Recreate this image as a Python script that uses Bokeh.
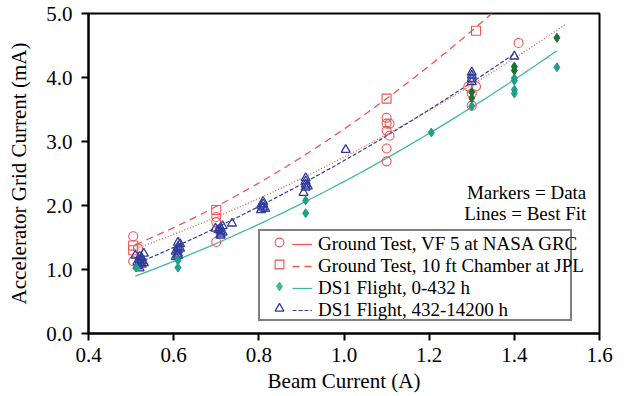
import numpy as np
from bokeh.plotting import figure
from bokeh.models import Legend, LegendItem, Label, NumeralTickFormatter, FixedTicker, Range1d
from bokeh.embed import file_html
from bokeh.resources import INLINE

FONT = "Liberation Serif"

# ---- data ----
x_ticks = [0.4, 0.6, 0.8, 1.0, 1.2, 1.4, 1.6]
y_ticks = [0.0, 1.0, 2.0, 3.0, 4.0, 5.0]

# Ground Test, VF 5 at NASA GRC (circles)
vf5_x = [0.505, 0.516, 0.505, 0.70, 0.70, 0.70, 1.10, 1.10, 1.107, 1.10, 1.107, 1.10, 1.10,
         1.292, 1.31, 1.30, 1.30, 1.41]
vf5_y = [1.52, 1.33, 1.13, 1.82, 1.74, 1.43, 3.37, 3.28, 3.28, 3.17, 3.09, 2.89, 2.69,
         3.86, 3.86, 3.75, 3.56, 4.54]

# Ground Test, 10 ft Chamber at JPL (squares)
jpl_x = [0.505, 0.505, 0.70, 1.10, 1.31]
jpl_y = [1.375, 1.30, 1.93, 3.67, 4.73]

# DS1 Flight, 0-432 h (diamonds)
ds1a_x = [0.512, 0.61, 0.61, 0.91, 0.91, 1.205, 1.30, 1.40, 1.40, 1.40, 1.40, 1.50]
ds1a_y = [1.03, 1.14, 1.03, 2.08, 1.88, 3.14, 3.55, 3.99, 3.95, 3.81, 3.75, 4.16]
ds1a_dark_x = [1.30, 1.30, 1.40, 1.40, 1.50]
ds1a_dark_y = [3.77, 3.68, 4.17, 4.11, 4.62]

# DS1 Flight, 432-14200 h (triangles)
ds1b_x = [0.51, 0.515, 0.52, 0.52, 0.52, 0.525, 0.525, 0.525, 0.53, 0.53, 0.52, 0.515,
          0.605, 0.61, 0.61, 0.61, 0.615, 0.61, 0.605, 0.615, 0.61,
          0.698, 0.737, 0.71, 0.71, 0.71, 0.715, 0.705, 0.71, 0.715,
          0.805, 0.81, 0.81, 0.81, 0.815, 0.805,
          0.905, 0.91, 0.91, 0.91, 0.91, 0.915,
          1.004, 1.30, 1.30, 1.30, 1.30, 1.40]
ds1b_y = [1.22, 1.05, 1.10, 1.15, 1.20, 1.08, 1.13, 1.18, 1.25, 1.10, 1.02, 1.12,
          1.20, 1.25, 1.30, 1.35, 1.40, 1.22, 1.28, 1.33, 1.42,
          1.64, 1.72, 1.55, 1.60, 1.65, 1.58, 1.62, 1.53, 1.68,
          1.93, 1.97, 2.02, 2.06, 1.95, 2.00,
          2.20, 2.28, 2.33, 2.38, 2.43, 2.30,
          2.87, 3.93, 3.98, 4.03, 4.08, 4.33]

# Best-fit quadratics  y = a + b*x + c*x^2  and their x extents
fit_vf5 = [0.373, 1.326, 1.057]
fit_vf5_span = [0.50, 1.52]
fit_jpl = [0.432, 0.950, 1.8125]
fit_jpl_span = [0.51, 1.36]
fit_ds1a = [-0.093, 1.387, 1.080]
fit_ds1a_span = [0.51, 1.50]
fit_ds1b = [-0.098, 1.816, 0.983]
fit_ds1b_span = [0.53, 1.40]

labels = ["Ground Test, VF 5 at NASA GRC",
          "Ground Test, 10 ft Chamber at JPL",
          "DS1 Flight, 0-432 h",
          "DS1 Flight, 432-14200 h"]

RED = "#ef5350"
BLUE = "#2f3b9c"
TEAL = "#1f9e8a"
MINT = "#3dbb8c"
DARK = "#1f6e35"
TEAL_LINE = "#45b8a0"


def fit_curve(coef, span):
    xs = np.linspace(span[0], span[1], 80)
    return xs, coef[0] + coef[1] * xs + coef[2] * xs ** 2


p = figure(width=627, height=396, output_backend="svg", toolbar_location=None,
           x_range=Range1d(0.4, 1.6), y_range=Range1d(0.0, 5.0),
           min_border_left=88, min_border_right=28, min_border_top=13, min_border_bottom=63)
p.xgrid.visible = False
p.ygrid.visible = False
p.outline_line_color = "black"
p.outline_line_width = 2
p.background_fill_color = "white"
p.border_fill_color = "white"

# fit lines
xs, ys = fit_curve(fit_vf5, fit_vf5_span)
r_l_vf5 = p.line(xs, ys, line_color=RED, line_width=1.3, line_dash="1 2")
xs, ys = fit_curve(fit_jpl, fit_jpl_span)
r_l_jpl = p.line(xs, ys, line_color=RED, line_width=1.3, line_dash="7 5")
xs, ys = fit_curve(fit_ds1a, fit_ds1a_span)
r_l_ds1a = p.line(xs, ys, line_color=TEAL_LINE, line_width=1.3)
xs, ys = fit_curve(fit_ds1b, fit_ds1b_span)
r_l_ds1b = p.line(xs, ys, line_color=BLUE, line_width=1.2, line_dash="4 2")

# markers
r_vf5 = p.scatter(vf5_x, vf5_y, marker="circle", size=9, fill_color=None, line_color=RED, line_width=1.1)
r_jpl = p.scatter(jpl_x, jpl_y, marker="square", size=9, fill_color=None, line_color=RED, line_width=1.1)
r_ds1b = p.scatter(ds1b_x, ds1b_y, marker="triangle", size=9, fill_color=None, line_color=BLUE, line_width=1.3)
r_ds1a = p.scatter(ds1a_x, ds1a_y, marker="diamond", size=9, fill_color=TEAL, line_color=TEAL)
p.scatter(ds1a_dark_x, ds1a_dark_y, marker="diamond", size=9, fill_color=DARK, line_color=DARK)

# legend proxies (a single undrawable NaN point each)
nan_pt = [float("nan")]
leg_diamond = p.scatter(nan_pt, nan_pt, marker="diamond", size=10, fill_color=MINT, line_color=MINT)
leg_red_solid = p.line(nan_pt, nan_pt, line_color=RED, line_width=1.3)

# axes
for ax in (p.xaxis[0], p.yaxis[0]):
    ax.axis_line_width = 2
    ax.axis_line_color = "black"
    ax.major_tick_line_width = 2
    ax.major_tick_in = 0
    ax.major_tick_out = 7
    ax.minor_tick_line_color = None
    ax.major_label_text_font = FONT
    ax.major_label_text_font_size = "21px"
    ax.major_label_text_color = "black"
    ax.axis_label_text_font = FONT
    ax.axis_label_text_font_size = "21px"
    ax.axis_label_text_font_style = "normal"
    ax.axis_label_text_color = "black"
    ax.formatter = NumeralTickFormatter(format="0.0")

p.xaxis.ticker = FixedTicker(ticks=x_ticks)
p.yaxis.ticker = FixedTicker(ticks=y_ticks)
p.xaxis.axis_label = "Beam Current (A)"
p.yaxis.axis_label = "Accelerator Grid Current (mA)"
p.xaxis.major_label_standoff = 7
p.yaxis.major_label_standoff = 9
p.xaxis.axis_label_standoff = 4
p.yaxis.axis_label_standoff = 12

# legend: markers box (with border) + lines/labels overlay
common = dict(glyph_height=22, label_height=22, spacing=0, padding=0, margin=0,
              label_text_font=FONT, label_text_font_size="19px", label_text_color="black")
leg_m = Legend(items=[LegendItem(label=" ", renderers=[r_vf5]),
                      LegendItem(label=" ", renderers=[r_jpl]),
                      LegendItem(label=" ", renderers=[leg_diamond]),
                      LegendItem(label=" ", renderers=[r_ds1b])],
               location=(170, 12), glyph_width=38, label_standoff=0, label_width=272,
               border_line_color="black", border_line_width=2,
               background_fill_color="white", background_fill_alpha=1.0, **common)
leg_l = Legend(items=[LegendItem(label=labels[0], renderers=[leg_red_solid]),
                      LegendItem(label=labels[1], renderers=[r_l_jpl]),
                      LegendItem(label=labels[2], renderers=[r_l_ds1a]),
                      LegendItem(label=labels[3], renderers=[r_l_ds1b])],
               location=(204, 12), glyph_width=20, label_standoff=6,
               border_line_color=None, background_fill_alpha=0.0, **common)
p.add_layout(leg_m, "center")
p.add_layout(leg_l, "center")

# annotations
for txt, yv in (("Markers = Data", 2.20), ("Lines = Best Fit", 1.875)):
    p.add_layout(Label(x=1.569, y=yv, text=txt, text_align="right", text_baseline="middle",
                       text_font=FONT, text_font_size="19px", text_color="black"))

open("out.html", "w").write(file_html(p, INLINE))
